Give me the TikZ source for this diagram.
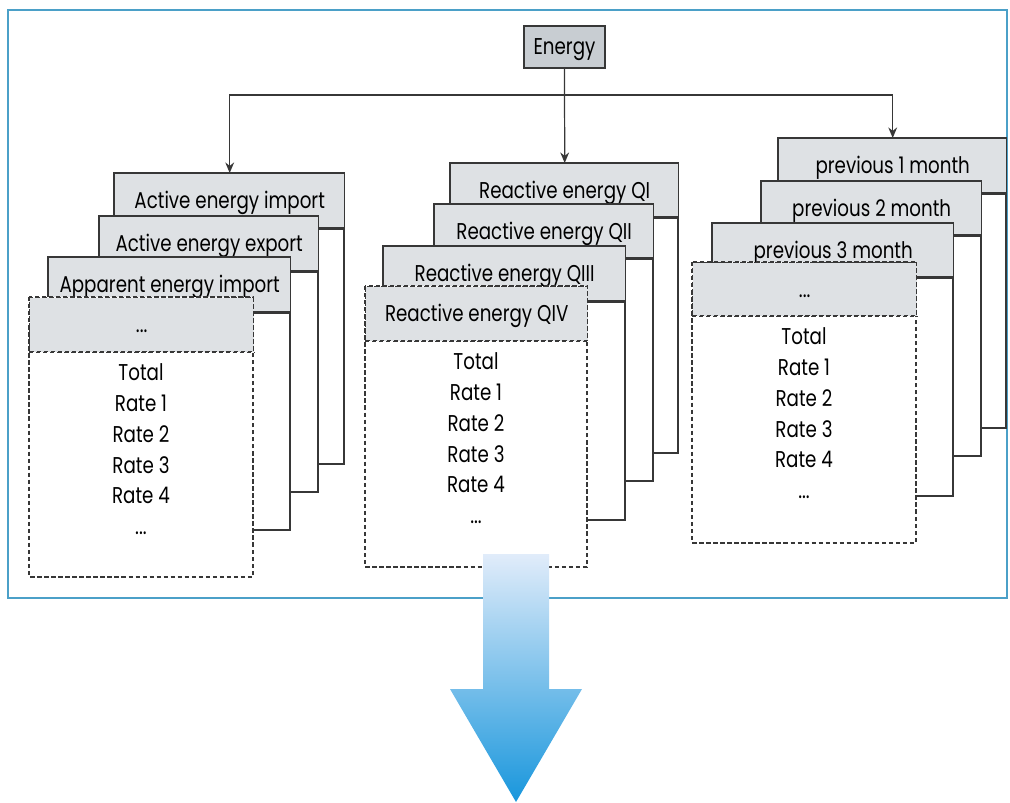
\documentclass[tikz,border=0pt]{standalone}
\usepackage{fontspec}
\setmainfont{Poppins}[FakeStretch=0.8]
\usepackage{tikz}
\usetikzlibrary{arrows.meta,positioning}
\definecolor{mframe}{RGB}{75,160,200}
\definecolor{mhead}{RGB}{222,225,228}
\definecolor{mtop}{RGB}{200,205,210}
\definecolor{mline}{RGB}{55,55,55}
\definecolor{marrowtop}{RGB}{225,236,250}
\definecolor{marrowbot}{RGB}{24,150,220}

\tikzset{
  cardbody/.style={draw=mline, line width=0.8pt, fill=white},
  cardhead/.style={draw=mline, line width=0.8pt, fill=mhead, inner sep=0pt,
    anchor=north west, text height=9pt, text depth=0pt,
    font=\fontsize{13}{15}\selectfont},
  headedge/.style={draw=mline, line width=1.4pt},
  frontcard/.style={dash pattern=on 2.5pt off 1.5pt, line width=0.8pt},
  ratelist/.style={font=\fontsize{13}{17.6}\selectfont, align=center,
    anchor=north, inner sep=0pt},
  link/.style={draw=mline, line width=0.7pt, -{Stealth[length=6pt,width=5pt]}},
}

% card: [style] name, left, top, right, bottom, header bottom, title
\newcommand{\mcard}[8][]{%
  \draw[cardbody,#1] (#3,#4) rectangle (#5,#6);
  \node[cardhead,#1, minimum width={(#5-#3)*0.02cm},
        minimum height={(#7-#4)*0.02cm}] (#2) at (#3,#4) {#8};
  \draw[headedge,#1] (#2.south west) -- (#2.south east);
}

\begin{document}
\begin{tikzpicture}[x=0.02cm, y=-0.02cm]
  \useasboundingbox (0,0) rectangle (1010,803);
  \draw[mframe, line width=0.8pt] (8,10) rectangle (1007,598);

  % Energy
  \node[draw=mline, line width=0.8pt, fill=mtop, minimum width=1.62cm,
        minimum height=0.84cm, text height=9pt, text depth=0pt,
        font=\fontsize{13}{15}\selectfont]
    (energy) at (564.5,47) {Energy};

  % Active / apparent energy
  \mcard{l1}{114}{173}{344}{464}{227}{Active energy import}
  \mcard{l2}{99}{216}{318}{492}{270}{Active energy export}
  \mcard{l3}{48}{257}{290}{530}{311}{Apparent energy import}
  \mcard[frontcard]{l4}{29}{297}{253}{577}{351}{...}
  \node[ratelist] (lrates) at (141,363)
    {Total\\Rate 1\\Rate 2\\Rate 3\\Rate 4\\...};

  % Reactive energy
  \mcard{m1}{450}{163}{678}{453}{216}{Reactive energy QI}
  \mcard{m2}{434}{204}{653}{481}{257}{Reactive energy QII}
  \mcard{m3}{383}{246}{625}{520}{300}{Reactive energy QIII}
  \mcard[frontcard]{m4}{365}{286}{587}{567}{340}{Reactive energy QIV}
  \node[ratelist] (mrates) at (476,352)
    {Total\\Rate 1\\Rate 2\\Rate 3\\Rate 4\\...};

  % Previous months
  \mcard{r1}{778}{138}{1006}{428}{192}{previous 1 month}
  \mcard{r2}{761}{181}{981}{456}{234}{previous 2 month}
  \mcard{r3}{712}{223}{953}{496}{276}{previous 3 month}
  \mcard[frontcard]{r4}{692}{262}{916}{543}{315}{...}
  \node[ratelist] (rrates) at (804,327)
    {Total\\Rate 1\\Rate 2\\Rate 3\\Rate 4\\...};

  % links
  \coordinate (bus) at (564.5,95);
  \draw[link] (energy.south) -- (m1.north);
  \draw[link] (bus) -| (l1.north);
  \draw[link] (bus) -| (r1.north);

  % big arrow
  \shade[top color=marrowtop, bottom color=marrowbot]
    (483,554) -- (549,554) -- (549,689) -- (582,689) -- (516,802)
    -- (450,689) -- (483,689) -- cycle;
\end{tikzpicture}
\end{document}
